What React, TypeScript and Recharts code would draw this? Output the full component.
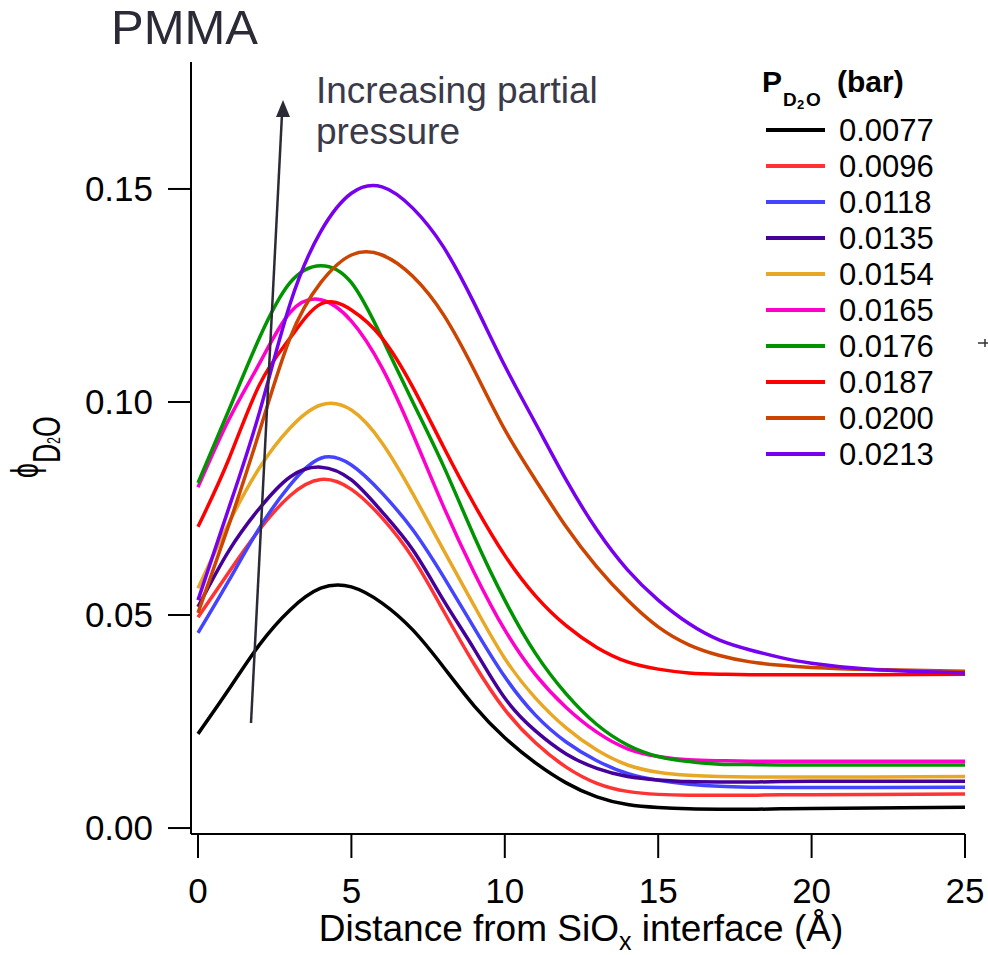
import React from 'react';
import { LineChart, Line, XAxis, YAxis, Legend, Label } from 'recharts';

const FONT = '"Liberation Sans", Arial, Helvetica, sans-serif';

// distance from the SiOx interface (Å)
const distance = [0, 1, 2, 3, 4, 5, 6, 7, 8, 9, 10, 11, 12, 13, 14, 15, 16, 17, 18, 19, 20, 22, 25];

// phi D2O profiles, one per partial pressure
const p0077 = [0.0221, 0.0325, 0.043, 0.0512, 0.0563, 0.0566, 0.0528, 0.0465, 0.0378, 0.0287, 0.0212, 0.0153, 0.0106, 0.0073, 0.0055, 0.0048, 0.0045, 0.0044, 0.0044, 0.0045, 0.0046, 0.0047, 0.0049];
const p0096 = [0.0495, 0.06, 0.07, 0.078, 0.0818, 0.0795, 0.0728, 0.0634, 0.051, 0.0385, 0.0278, 0.02, 0.0143, 0.0105, 0.0086, 0.0079, 0.0077, 0.0077, 0.0077, 0.0078, 0.0078, 0.0079, 0.008];
const p0118 = [0.0458, 0.058, 0.0704, 0.0805, 0.0868, 0.0852, 0.0786, 0.07, 0.059, 0.047, 0.0355, 0.0265, 0.0202, 0.0158, 0.0128, 0.0112, 0.0103, 0.0098, 0.0096, 0.0095, 0.0095, 0.0095, 0.0096];
const p0135 = [0.0519, 0.065, 0.075, 0.0824, 0.0847, 0.0817, 0.0742, 0.0653, 0.0535, 0.042, 0.0305, 0.0228, 0.0174, 0.014, 0.0121, 0.0113, 0.0109, 0.0108, 0.0108, 0.0109, 0.011, 0.011, 0.011];
const p0154 = [0.0563, 0.0715, 0.0845, 0.0939, 0.0993, 0.0981, 0.0904, 0.0785, 0.0653, 0.0522, 0.0398, 0.0305, 0.0235, 0.0183, 0.0148, 0.0131, 0.0124, 0.0121, 0.012, 0.012, 0.012, 0.012, 0.0121];
const p0165 = [0.08, 0.0958, 0.109, 0.121, 0.124, 0.119, 0.108, 0.0925, 0.0755, 0.06, 0.0465, 0.036, 0.0283, 0.0225, 0.0186, 0.0168, 0.016, 0.0158, 0.0157, 0.0157, 0.0157, 0.0157, 0.0157];
const p0176 = [0.081, 0.098, 0.115, 0.128, 0.132, 0.128, 0.115, 0.1, 0.085, 0.0685, 0.0535, 0.041, 0.0315, 0.0243, 0.0195, 0.0168, 0.0156, 0.015, 0.0149, 0.0148, 0.0148, 0.0148, 0.0148];
const p0187 = [0.0707, 0.0865, 0.104, 0.115, 0.123, 0.1216, 0.115, 0.1035, 0.0895, 0.076, 0.064, 0.0545, 0.0475, 0.0424, 0.039, 0.0373, 0.0364, 0.0361, 0.036, 0.036, 0.036, 0.036, 0.0361];
const p0200 = [0.0505, 0.071, 0.093, 0.115, 0.128, 0.1345, 0.1345, 0.1295, 0.1205, 0.1075, 0.0935, 0.0817, 0.0707, 0.0613, 0.0535, 0.0472, 0.043, 0.0405, 0.039, 0.0382, 0.0377, 0.0372, 0.0368];
const p0213 = [0.0535, 0.075, 0.0975, 0.123, 0.14, 0.149, 0.1505, 0.1455, 0.1364, 0.1232, 0.1085, 0.095, 0.0817, 0.07, 0.0606, 0.0535, 0.048, 0.0441, 0.0418, 0.04, 0.0387, 0.0372, 0.0364];

const pressureLabels = ['0.0077', '0.0096', '0.0118', '0.0135', '0.0154', '0.0165', '0.0176', '0.0187', '0.0200', '0.0213'];
const xTicks = [0, 5, 10, 15, 20, 25];
const yTicks = [0, 0.05, 0.1, 0.15];

const profiles = [p0077, p0096, p0118, p0135, p0154, p0165, p0176, p0187, p0200, p0213];
const colors = ['#000000', '#ff3333', '#4444ff', '#440099', '#e8a825', '#ff00cc', '#009400', '#ff0000', '#cc4400', '#7700ee'];

const data = distance.map((x, i) => {
  const row: Record<string, number> = { x };
  profiles.forEach((p, k) => {
    row['s' + k] = p[i];
  });
  return row;
});

const LEG_X = 757;
const LEG_Y = 60;

const renderLegend = (props: any) => {
  const payload = props.payload || [];
  return (
    <svg width={231} height={420} style={{ overflow: 'visible', fontFamily: FONT }}>
      <text y={92 - LEG_Y} fontWeight="bold" fill="#000">
        <tspan x={762 - LEG_X} fontSize={30}>P</tspan>
        <tspan x={783 - LEG_X} dy={14} fontSize={19}>D</tspan>
        <tspan x={797 - LEG_X} dy={3} fontSize={13}>2</tspan>
        <tspan x={806 - LEG_X} dy={-3} fontSize={19}>O</tspan>
        <tspan x={837 - LEG_X} dy={-14} fontSize={30}>(bar)</tspan>
      </text>
      {payload.map((entry: any, i: number) => {
        const cy = 130 - LEG_Y + i * 36;
        return (
          <g key={entry.value}>
            <line x1={766 - LEG_X} x2={825 - LEG_X} y1={cy} y2={cy} stroke={entry.color} strokeWidth={4} />
            <text x={839 - LEG_X} y={cy + 11} fontSize={31} fill="#000">{entry.value}</text>
          </g>
        );
      })}
    </svg>
  );
};

const XTitle = () => (
  <text x={581} y={941} textAnchor="middle" fontSize={37} fontFamily={FONT} fill="#000">
    Distance from SiO
    <tspan fontSize={25} dy={9}>x</tspan>
    <tspan fontSize={37} dy={-9}> interface (Å)</tspan>
  </text>
);

const YTitle = () => (
  <g transform="translate(38, 478) rotate(-90) scale(0.7, 1)" fontFamily={FONT} fill="#000">
    <text x={0} y={0} fontSize={38}>
      ϕ
      <tspan dy={22}>D</tspan>
      <tspan fontSize={18}>2</tspan>
      <tspan>O</tspan>
    </text>
  </g>
);

export default function App() {
  return (
    <div style={{ position: 'absolute', left: 0, top: 0, width: 988, height: 955, background: '#fff' }}>
      <LineChart width={988} height={955} data={data} margin={{ top: 62, right: 23, left: 91, bottom: 0 }}>
        <XAxis
          dataKey="x"
          type="number"
          domain={[-0.228, 25]}
          ticks={xTicks}
          allowDataOverflow
          height={121}
          tickSize={24}
          tickMargin={20}
          axisLine={{ stroke: '#000', strokeWidth: 2 }}
          tickLine={{ stroke: '#000', strokeWidth: 2 }}
          tick={{ fill: '#000', fontSize: 35, fontFamily: FONT }}
        >
          <Label content={XTitle} />
        </XAxis>
        <YAxis
          type="number"
          domain={[-0.0014, 0.1798]}
          ticks={yTicks}
          allowDataOverflow
          width={100}
          tickSize={23}
          tickMargin={15}
          tickFormatter={(v: number) => v.toFixed(2)}
          axisLine={{ stroke: '#000', strokeWidth: 2 }}
          tickLine={{ stroke: '#000', strokeWidth: 2 }}
          tick={{ fill: '#000', fontSize: 35, fontFamily: FONT }}
        >
          <Label content={YTitle} />
        </YAxis>
        <Legend
          content={renderLegend}
          layout="horizontal"
          verticalAlign="middle"
          align="center"
          wrapperStyle={{ left: LEG_X, top: LEG_Y, width: 231, height: 420 }}
        />
        {profiles.map((_, k) => (
          <Line
            key={k}
            type="natural"
            dataKey={'s' + k}
            name={pressureLabels[k]}
            stroke={colors[k]}
            strokeWidth={3.5}
            dot={false}
            activeDot={false}
            isAnimationActive={false}
          />
        ))}
      </LineChart>
      <svg
        width={988}
        height={955}
        style={{ position: 'absolute', left: 0, top: 0, pointerEvents: 'none', fontFamily: FONT }}
      >
        <text x={111} y={44} fontSize={49} fill="#2b2b38">PMMA</text>
        <text x={316} y={103} fontSize={37} fill="#3a3a48">Increasing partial</text>
        <text x={316} y={144} fontSize={37} fill="#3a3a48">pressure</text>
        <line x1={251} y1={723} x2={282} y2={114} stroke="#2b2b38" strokeWidth={2.5} />
        <polygon points="283,100 276,117 290,117" fill="#2b2b38" />
        <line x1={978} y1={343} x2={988} y2={343} stroke="#333" strokeWidth={1.5} />
        <line x1={985} y1={339} x2={985} y2={347} stroke="#333" strokeWidth={1.5} />
      </svg>
    </div>
  );
}
